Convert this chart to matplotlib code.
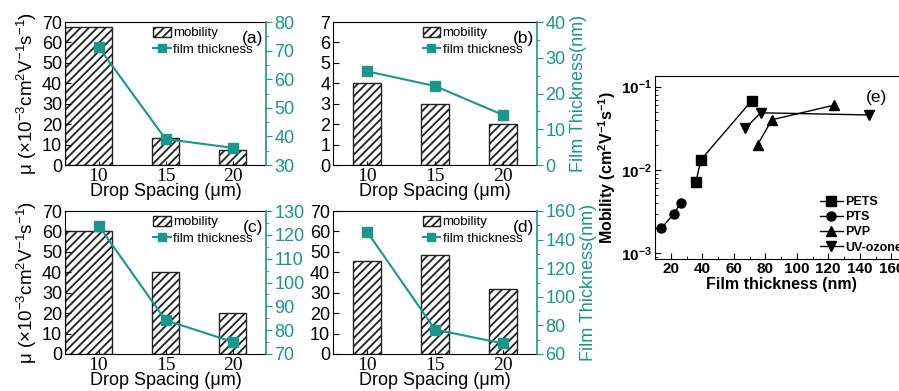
import matplotlib
matplotlib.use("Agg")
import matplotlib.pyplot as plt
from matplotlib.patches import Patch
from matplotlib.lines import Line2D
from matplotlib.ticker import MultipleLocator, LogLocator, NullFormatter, FuncFormatter
import numpy as np

plt.rcParams['font.family'] = ['Liberation Sans', 'DejaVu Sans']
plt.rcParams['mathtext.fontset'] = 'custom'
plt.rcParams['mathtext.rm'] = 'Liberation Sans'
plt.rcParams['mathtext.it'] = 'Liberation Sans:italic'
plt.rcParams['mathtext.bf'] = 'Liberation Sans:bold'
plt.rcParams['hatch.linewidth'] = 1.3

# drop spacing (um) used for every dielectric treatment
spacing = [10, 15, 20]

# mobility (x1e-3 cm2/Vs) and film thickness (nm) per treatment
mob_pets = [67.5, 13.2, 7.2]
thick_pets = [71.3, 39.1, 36.0]
mob_pts = [4.0, 3.0, 2.0]
thick_pts = [26.2, 22.1, 14.0]
mob_pvp = [60.0, 40.0, 20.0]
thick_pvp = [123.9, 84.2, 75.1]
mob_uv = [45.7, 48.5, 31.8]
thick_uv = [145.6, 77.1, 67.4]

teal = '#1a968b'
W, H = 899, 391


def box(l, t, r, b):
    return [l / W, 1 - b / H, (r - l) / W, (b - t) / H]


fig = plt.figure(figsize=(W / 100, H / 100), dpi=100)

panels = [
    dict(pos=box(65, 22, 266, 165), mob=mob_pets, th=thick_pets, tag='(a)',
         yl=(0, 70), ys=10, yr=(30, 80), rs=10, wide=True, left_lab=True, right_lab=False),
    dict(pos=box(333, 22, 537, 165), mob=mob_pts, th=thick_pts, tag='(b)',
         yl=(0, 7), ys=1, yr=(0, 40), rs=10, wide=False, left_lab=False, right_lab=True),
    dict(pos=box(65, 211, 266, 354), mob=mob_pvp, th=thick_pvp, tag='(c)',
         yl=(0, 70), ys=10, yr=(70, 130), rs=10, wide=True, left_lab=True, right_lab=False),
    dict(pos=box(333, 211, 537, 354), mob=mob_uv, th=thick_uv, tag='(d)',
         yl=(0, 70), ys=10, yr=(60, 160), rs=20, wide=False, left_lab=False, right_lab=True),
]

x0, x1 = 7.5, 22.5
bw = 2.0

for p in panels:
    ax = fig.add_axes(p['pos'])
    # bars are drawn from their left edges; the first one may run to the frame
    lefts = [s - bw / 2 for s in spacing]
    widths = [bw] * len(spacing)
    if p['wide']:
        widths[0] = lefts[0] + bw - x0
        lefts[0] = x0
    ax.bar(lefts, p['mob'], width=widths, align='edge', color='white',
           edgecolor='#222222', hatch='////', linewidth=1.0)
    ax.set_xlim(x0, x1)
    ax.set_ylim(*p['yl'])
    ax.set_xticks(spacing)
    ax.set_xticklabels([str(s) for s in spacing], family='Liberation Serif', fontsize=14)
    ax.yaxis.set_major_locator(MultipleLocator(p['ys']))
    ax.tick_params(axis='y', direction='in', labelsize=13, length=4, pad=2)
    ax.tick_params(axis='x', direction='in', length=3, pad=2)
    ax.spines['right'].set_visible(False)
    ax.set_xlabel('Drop Spacing (μm)', fontsize=13, labelpad=-1)
    if p['left_lab']:
        ax.set_ylabel('μ (×10$^{-3}$cm$^{2}$V$^{-1}$s$^{-1}$)', fontsize=13.5, labelpad=2)

    ax2 = ax.twinx()
    ax2.plot(spacing, p['th'], color=teal, marker='s', markersize=6.5,
             markerfacecolor=teal, markeredgecolor=teal, linewidth=1.5)
    ax2.set_ylim(*p['yr'])
    ax2.yaxis.set_major_locator(MultipleLocator(p['rs']))
    ax2.yaxis.set_minor_locator(MultipleLocator(p['rs'] / 2))
    for s in ('left', 'top', 'bottom'):
        ax2.spines[s].set_visible(False)
    ax2.spines['right'].set_color(teal)
    ax2.spines['right'].set_linewidth(1.2)
    ax2.tick_params(axis='y', which='both', colors=teal, labelsize=13, direction='out', pad=2)
    ax2.tick_params(axis='y', which='major', length=4)
    ax2.tick_params(axis='y', which='minor', length=2)
    if p['right_lab']:
        ax2.set_ylabel('Film Thickness(nm)', fontsize=13, color=teal, labelpad=3)

    handles = [Patch(facecolor='white', edgecolor='#222222', hatch='////', linewidth=1.0),
               Line2D([], [], color=teal, marker='s', markersize=6, linewidth=1.5)]
    ax2.legend(handles, ['mobility', 'film thickness'], loc='upper left',
               bbox_to_anchor=(0.44, 0.965), frameon=False, fontsize=9.5,
               handlelength=1.3, handleheight=0.75, handletextpad=0.2,
               labelspacing=0.3, borderpad=0, borderaxespad=0)
    ax2.text(0.985, 0.935, p['tag'], transform=ax2.transAxes, ha='right', va='top',
             fontsize=12.5)

# mobility versus film thickness for all treatments
axe = fig.add_axes(box(655, 76, 907, 259))
series = [
    ('PETS', thick_pets, mob_pets, 's'),
    ('PTS', thick_pts, mob_pts, 'o'),
    ('PVP', thick_pvp, mob_pvp, '^'),
    ('UV-ozone', thick_uv, mob_uv, 'v'),
]
for name, th, mob, mk in series:
    pts = sorted(zip(th, mob))
    axe.plot([t for t, m in pts], [m * 1e-3 for t, m in pts], color='black',
             marker=mk, markersize=6.5, linewidth=1.0, label=name)
axe.set_yscale('log')
axe.set_xlim(10, 170)
axe.set_ylim(8.55e-4, 0.134)
axe.xaxis.set_major_locator(MultipleLocator(20))
axe.xaxis.set_minor_locator(MultipleLocator(10))
axe.yaxis.set_major_locator(LogLocator(base=10, numticks=10))
axe.yaxis.set_minor_locator(LogLocator(base=10, subs=range(2, 10), numticks=20))
axe.yaxis.set_minor_formatter(NullFormatter())
axe.yaxis.set_major_formatter(FuncFormatter(
    lambda v, pos: r'$\mathbf{10^{%d}}$' % int(round(np.log10(v)))))
axe.tick_params(which='both', direction='in', labelsize=11, pad=2)
axe.tick_params(which='major', length=4)
axe.tick_params(which='minor', length=2)
for lab in axe.get_xticklabels():
    lab.set_fontweight('bold')
axe.set_xlabel('Film thickness (nm)', fontsize=11.5, fontweight='bold', labelpad=1)
axe.set_ylabel(r'Mobility (cm$^\mathbf{2}$V$^\mathbf{-1}$s$^\mathbf{-1}$)', fontsize=11.5,
               fontweight='bold', labelpad=2)
axe.text(0.88, 0.885, '(e)', transform=axe.transAxes, ha='center', va='center', fontsize=12.5)
axe.legend(loc='lower left', bbox_to_anchor=(0.655, 0.03), frameon=False,
           prop={'weight': 'bold', 'size': 9}, handlelength=1.8,
           handletextpad=0.2, labelspacing=0.25, borderpad=0, borderaxespad=0)

fig.savefig('out.png', dpi=100)
